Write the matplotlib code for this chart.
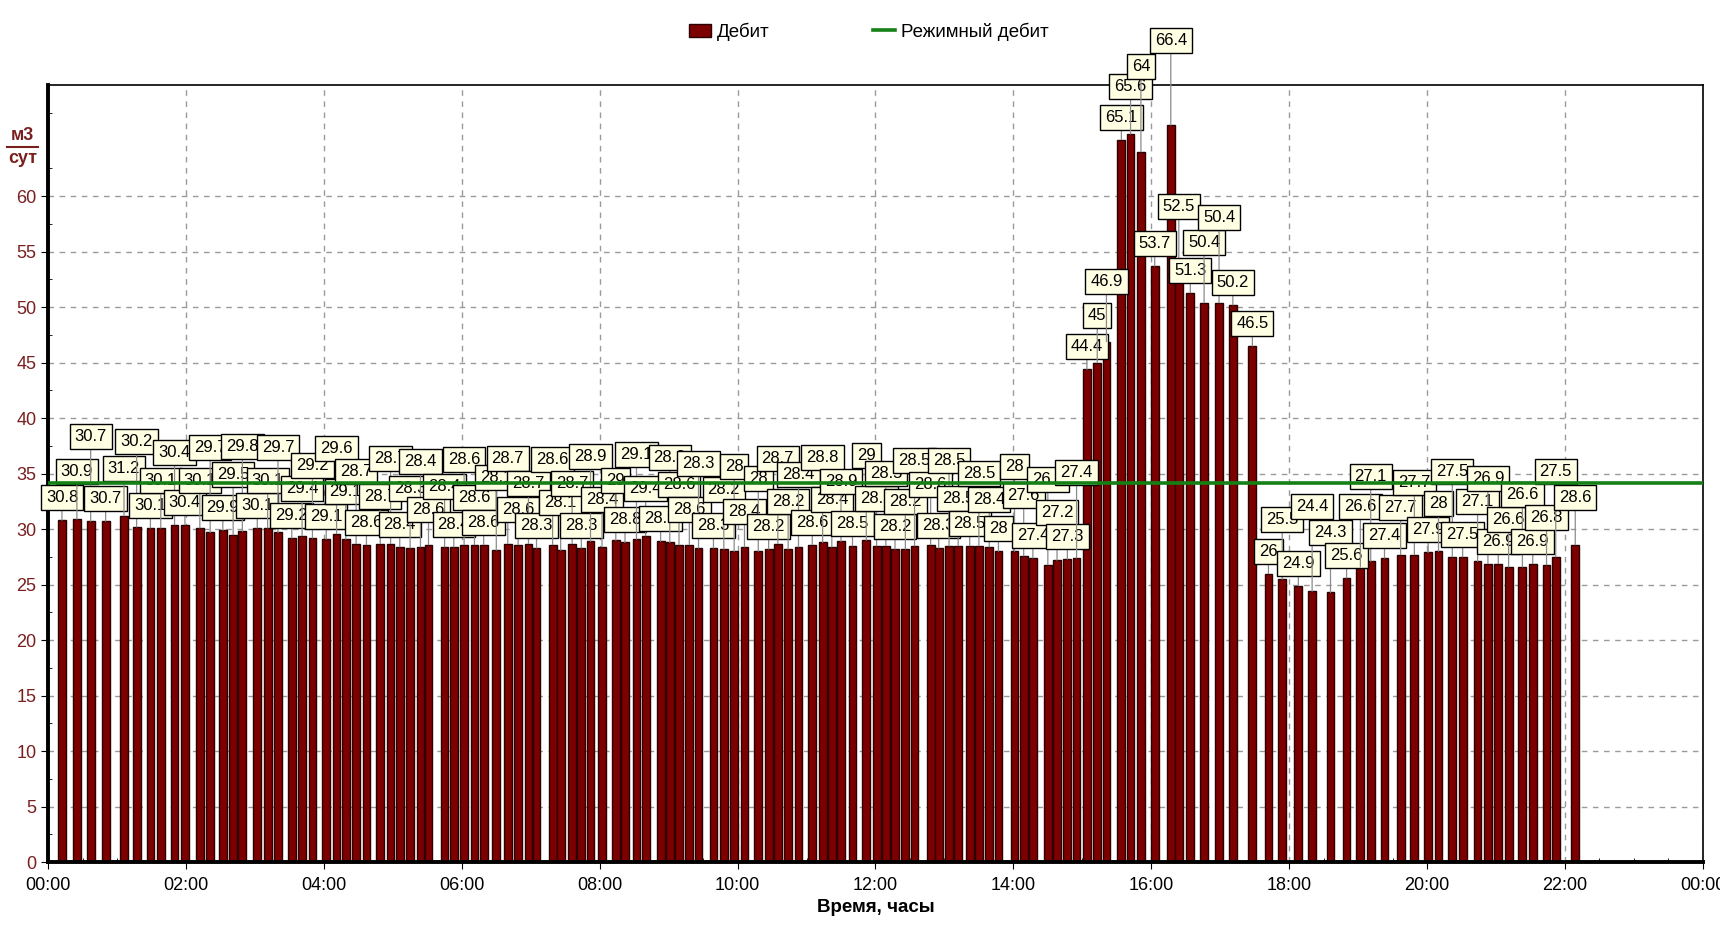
import matplotlib.pyplot as plt
from matplotlib.lines import Line2D
from matplotlib.patches import Patch

plt.rcParams["font.family"] = ["Liberation Sans", "DejaVu Sans"]

# time of each measurement, minutes from 00:00
TIMES = [12, 25, 37, 50, 66, 77, 89, 98, 110, 119, 132, 141, 152, 161, 169, 182, 191, 200, 212, 221, 230, 242, 251,
         259, 268, 277, 289, 298, 306, 315, 324, 331, 345, 353, 362, 371, 379, 390, 400, 409, 418, 425, 439, 446,
         456, 464, 472, 482, 494,
         502, 512, 520, 533, 541, 549, 558, 566, 579, 588, 597, 606, 618, 627, 635, 644, 653, 665, 674, 682, 690,
         700, 712, 721, 729, 737,
         746, 754, 768, 775, 784, 792, 802, 810, 819, 827, 841, 849, 857, 870, 878, 887, 895,
         904, 913, 921, 934, 942, 951, 963, 977, 984, 994, 1006, 1019, 1031, 1048, 1062, 1074, 1088,
         1100, 1116, 1130, 1142, 1151, 1163, 1177, 1189, 1201, 1210, 1222, 1231, 1244, 1253, 1262, 1271, 1283,
         1292, 1304, 1312, 1329]

# debit, m3/day
DEBIT = [30.8, 30.9, 30.7, 30.7, 31.2, 30.2, 30.1, 30.1, 30.4, 30.4, 30.1, 29.7, 29.9, 29.5, 29.8, 30.1, 30.1,
         29.7, 29.2, 29.4, 29.2, 29.1, 29.6,
         29.1, 28.7, 28.6, 28.7, 28.7, 28.4, 28.3, 28.4, 28.6, 28.4, 28.4, 28.6, 28.6, 28.6, 28.1, 28.7, 28.6,
         28.7, 28.3, 28.6, 28.1, 28.7, 28.3, 28.9, 28.4, 29.0,
         28.8, 29.1, 29.4, 28.9, 28.8, 28.6, 28.6, 28.3, 28.3, 28.2, 28.0, 28.4, 28.0, 28.2, 28.7, 28.2, 28.4,
         28.6, 28.8, 28.4, 28.9, 28.5, 29.0, 28.5, 28.5, 28.2,
         28.2, 28.5, 28.6, 28.3, 28.5, 28.5, 28.5, 28.5, 28.4, 28.0, 28.0, 27.6, 27.4, 26.8, 27.2, 27.3, 27.4,
         44.4, 45.0, 46.9, 65.1, 65.6, 64.0, 53.7, 66.4, 52.5, 51.3, 50.4, 50.4, 50.2, 46.5, 26.0, 25.5, 24.9,
         24.4, 24.3, 25.6, 26.6, 27.1, 27.4, 27.7, 27.7, 27.9, 28.0, 27.5, 27.5, 27.1, 26.9, 26.9, 26.6, 26.6,
         26.9, 26.8, 27.5, 28.6]

MODE_DEBIT = 34.2

X_TICKS = list(range(0, 1441, 120))
X_LABELS = ["00:00", "02:00", "04:00", "06:00", "08:00", "10:00", "12:00",
            "14:00", "16:00", "18:00", "20:00", "22:00", "00:00"]
Y_TICKS = list(range(0, 61, 5))

BAR_COLOR = "#7d0000"
LABEL_COLOR = "#7a1f1f"
LINE_COLOR = "#158015"

assert len(TIMES) == len(DEBIT)


def overlap(a, b):
    dx = min(a[2], b[2]) - max(a[0], b[0])
    dy = min(a[3], b[3]) - max(a[1], b[1])
    if dx <= 0 or dy <= 0:
        return 0.0
    return dx * dy


def place_marks(fig, ax, marks, gap=10, max_steps=6):
    # lift each mark a few half-steps to uncover the marks placed before it
    fig.canvas.draw()
    renderer = fig.canvas.get_renderer()
    inv = ax.transData.inverted()
    placed = []
    for ann, t, v in marks:
        bb = ann.get_bbox_patch().get_window_extent(renderer)
        w, h = bb.width, bb.height
        cx, top = ax.transData.transform((t, v))
        step = h / 2
        best_y, best_ov = None, None
        for k in range(max_steps):
            yb = top + gap + k * step
            box = (cx - w / 2, yb, cx + w / 2, yb + h)
            ov = sum(overlap(box, p) for p in placed[-8:])
            if best_ov is None or ov < best_ov:
                best_y, best_ov = yb, ov
            if ov == 0:
                break
        placed.append((cx - w / 2, best_y, cx + w / 2, best_y + h))
        ann.xyann = (t, inv.transform((cx, best_y + h / 2))[1])


fig = plt.figure(figsize=(17.2, 9.26), dpi=100)
ax = fig.add_axes([0.028, 0.069, 0.962, 0.839])

ax.bar(TIMES, DEBIT, width=6.8, color=BAR_COLOR, edgecolor="#2a0000", linewidth=1.0, zorder=2)
ax.axhline(MODE_DEBIT, color=LINE_COLOR, lw=2.6, zorder=20)

marks = []
for i, (t, v) in enumerate(zip(TIMES, DEBIT)):
    ann = ax.annotate(f"{v:g}", xy=(t, v), xytext=(t, v + 2), textcoords="data",
                      ha="center", va="center", fontsize=12, color="black", zorder=10 + i * 0.01,
                      annotation_clip=False,
                      bbox=dict(boxstyle="square,pad=0.3", fc="#ffffe4", ec="black", lw=1),
                      arrowprops=dict(arrowstyle="-", color="#8c8c8c", lw=0.9, shrinkA=0, shrinkB=0))
    marks.append((ann, t, v))

ax.set_xlim(0, 1440)
ax.set_ylim(0, 70)
ax.set_xticks(X_TICKS)
ax.set_xticklabels(X_LABELS)
ax.set_xticks(range(0, 1441, 30), minor=True)
ax.set_yticks(Y_TICKS)
ax.set_yticks([y + 2.5 for y in Y_TICKS[:-1]] + [62.5, 67.5], minor=True)

ax.tick_params(axis="y", labelsize=13, labelcolor=LABEL_COLOR, length=5, direction="out")
ax.tick_params(axis="x", labelsize=13, length=5, direction="out", pad=6)
ax.tick_params(which="minor", length=3, direction="in")

ax.grid(True, which="major", color="#9a9a9a", linestyle=(0, (4, 4)), lw=1, zorder=0)
ax.set_axisbelow(True)

for side in ["left", "bottom"]:
    ax.spines[side].set_linewidth(2.8)
for side in ["top", "right"]:
    ax.spines[side].set_linewidth(1.2)

ax.set_xlabel("Время, часы", fontsize=13.5, fontweight="bold", labelpad=3)

# unit label м3 / сут at the top of the value axis
fig.text(0.013, 0.845, "м3", color=LABEL_COLOR, fontsize=13, fontweight="bold", ha="center", va="bottom")
fig.text(0.013, 0.838, "сут", color=LABEL_COLOR, fontsize=13, fontweight="bold", ha="center", va="top")
fig.add_artist(Line2D([0.004, 0.022], [0.8415, 0.8415], color=LABEL_COLOR, lw=1.5))

handles = [Patch(facecolor=BAR_COLOR, edgecolor="#2a0000"),
           Line2D([], [], color=LINE_COLOR, lw=2.6)]
fig.legend(handles, ["Дебит", "Режимный дебит"], loc="center", bbox_to_anchor=(0.505, 0.966),
           ncol=2, frameon=False, fontsize=13.5, columnspacing=5.5, handlelength=1.2, handletextpad=0.3)

place_marks(fig, ax, marks)

fig.savefig("out.png", dpi=100)
